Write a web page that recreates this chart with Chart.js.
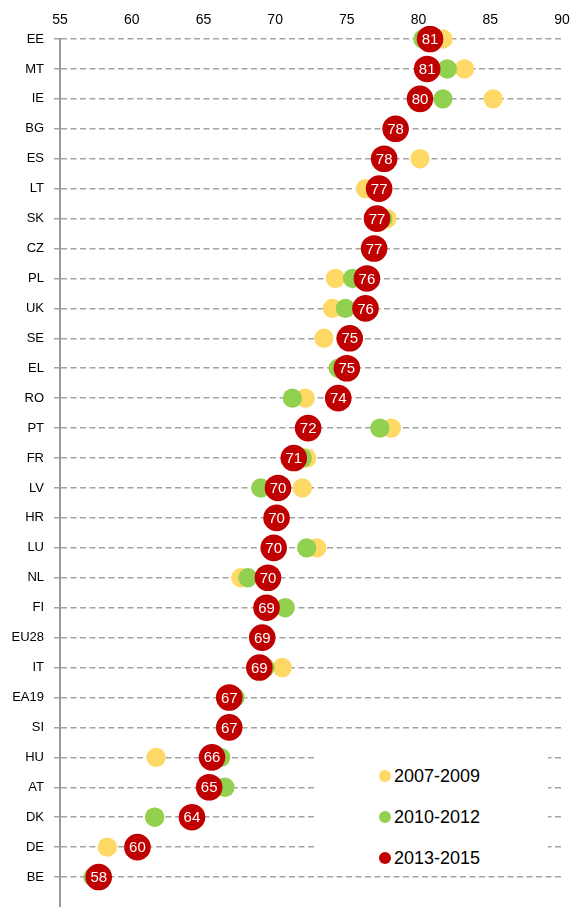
<!DOCTYPE html>
<html lang="en">
<head>
    <meta charset="UTF-8">
    <title>Country dot chart 2007-2015</title>
    <style>
        body { margin: 0; background: #fff; }
        .chart-container {
            position: relative;
            width: 573px;
            height: 907px;
        }
        /* legend sits inside the plot, on a white box that hides the grid lines */
        .legend {
            position: absolute;
            left: 317px;
            top: 746px;
            width: 231px;
            height: 122px;
            background: #fff;
            font: 18px 'Liberation Sans', Arial, sans-serif;
            color: #000;
        }
        .legend-item { position: absolute; left: 0; height: 20px; }
        .legend-item .dot {
            position: absolute;
            left: 62px;
            top: 4px;
            width: 12px;
            height: 12px;
            border-radius: 50%;
        }
        .legend-item .text {
            position: absolute;
            left: 77px;
            top: 0;
            line-height: 20px;
            white-space: nowrap;
        }
    </style>
    <script src="https://cdn.jsdelivr.net/npm/chart.js@4.4.0/dist/chart.umd.min.js"></script>
</head>
<body>
    <div class="chart-container">
        <canvas id="dotChart"></canvas>
        <div class="legend" id="legend"></div>
    </div>
    <script>
        const countries = ['EE', 'MT', 'IE', 'BG', 'ES', 'LT', 'SK', 'CZ', 'PL', 'UK', 'SE', 'EL', 'RO', 'PT', 'FR',
            'LV', 'HR', 'LU', 'NL', 'FI', 'EU28', 'IT', 'EA19', 'SI', 'HU', 'AT', 'DK', 'DE', 'BE'];
        const values2007 = [81.7, 83.2, 85.2, 78.3, 80.1, 76.3, 77.8, 76.9, 74.2, 74.0, 73.4, 74.5, 72.1, 78.1, 72.2,
            71.9, 70.0, 72.9, 67.6, 69.4, 68.9, 70.5, 67.0, 66.9, 61.7, 65.9, 61.6, 58.3, 57.4];
        const values2010 = [80.3, 82.0, 81.7, 78.5, 77.5, 77.5, 77.5, 77.0, 75.4, 74.9, 75.0, 74.4, 71.2, 77.3, 71.9,
            69.0, 70.1, 72.2, 68.1, 70.7, 69.0, 69.3, 67.2, 66.8, 66.2, 66.5, 61.6, 60.4, 57.3];
        const values2013 = [80.8, 80.6, 80.1, 78.4, 77.6, 77.25, 77.1, 76.9, 76.4, 76.3, 75.2, 75.0, 74.4, 72.3, 71.3,
            70.2, 70.1, 69.9, 69.5, 69.4, 69.1, 68.9, 66.8, 66.8, 65.6, 65.4, 64.2, 60.4, 57.7];
        const seriesLabels = ['2007-2009', '2010-2012', '2013-2015'];
        const seriesColors = ['#FFD966', '#92D050', '#C00000'];
        const xMin = 55, xMax = 90, xStep = 5;

        const fontFamily = "'Liberation Sans', Arial, sans-serif";
        const gridGray = '#A3A3A3';

        // one blank label at the end so the axis runs on below the last row
        const yLabels = countries.concat(['']);

        function toPoints(values) {
            return countries.map((c, i) => ({ x: values[i], y: c }));
        }

        // white rounded numbers on the red dots
        const valueLabels = {
            id: 'valueLabels',
            afterDatasetsDraw(chart) {
                const meta = chart.getDatasetMeta(2);
                const ctx = chart.ctx;
                ctx.save();
                ctx.fillStyle = '#fff';
                ctx.font = '15px ' + fontFamily;
                ctx.textAlign = 'center';
                ctx.textBaseline = 'middle';
                meta.data.forEach((pt, i) => {
                    ctx.fillText(Math.round(values2013[i]), pt.x, pt.y + 1);
                });
                ctx.restore();
            }
        };

        const allValues = [values2007, values2010, values2013];
        const radii = [9.7, 9.7, 13.3];
        const datasets = allValues.map((vals, i) => ({
            label: seriesLabels[i],
            data: toPoints(vals),
            backgroundColor: seriesColors[i],
            pointBackgroundColor: seriesColors[i],
            pointBorderWidth: 0,
            pointRadius: radii[i],
            pointHoverRadius: radii[i],
            order: 3 - i // red on top
        }));

        new Chart(document.getElementById('dotChart'), {
            type: 'scatter',
            data: { datasets: datasets },
            options: {
                responsive: true,
                maintainAspectRatio: false,
                animation: false,
                layout: { autoPadding: false, padding: { top: 12, left: 12, right: 11, bottom: 0 } },
                scales: {
                    x: {
                        type: 'linear',
                        position: 'top',
                        min: xMin,
                        max: xMax,
                        ticks: {
                            stepSize: xStep,
                            color: '#000',
                            padding: 10,
                            font: { family: fontFamily, size: 14 }
                        },
                        grid: { display: false, drawTicks: false },
                        border: { display: false },
                        afterFit(scale) {
                            scale.height = 27;
                            scale.paddingLeft = 0;
                            scale.paddingRight = 0;
                        }
                    },
                    y: {
                        type: 'category',
                        labels: yLabels,
                        offset: false,
                        ticks: {
                            autoSkip: false,
                            color: '#000',
                            padding: 10,
                            font: { family: fontFamily, size: 13 }
                        },
                        grid: {
                            color: ctx => ctx.index === countries.length ? 'rgba(0,0,0,0)' : gridGray,
                            lineWidth: 1.5,
                            tickLength: 6,
                            tickColor: ctx => ctx.index === countries.length ? 'rgba(0,0,0,0)' : gridGray
                        },
                        border: { color: '#999', width: 2, dash: [6, 3.5] },
                        afterFit(scale) {
                            scale.width = 48;
                            scale.paddingTop = 0;
                            scale.paddingBottom = 0;
                        }
                    }
                },
                plugins: {
                    legend: { display: false },
                    tooltip: { enabled: false }
                }
            },
            plugins: [valueLabels]
        });

        // legend
        const legendBox = document.getElementById('legend');
        const itemTops = [20, 61, 102];
        seriesLabels.forEach((label, i) => {
            const item = document.createElement('div');
            item.className = 'legend-item';
            item.style.top = itemTops[i] + 'px';
            item.innerHTML = '<span class="dot" style="background:' + seriesColors[i] + '"></span>' +
                '<span class="text">' + label + '</span>';
            legendBox.appendChild(item);
        });
    </script>
</body>
</html>
